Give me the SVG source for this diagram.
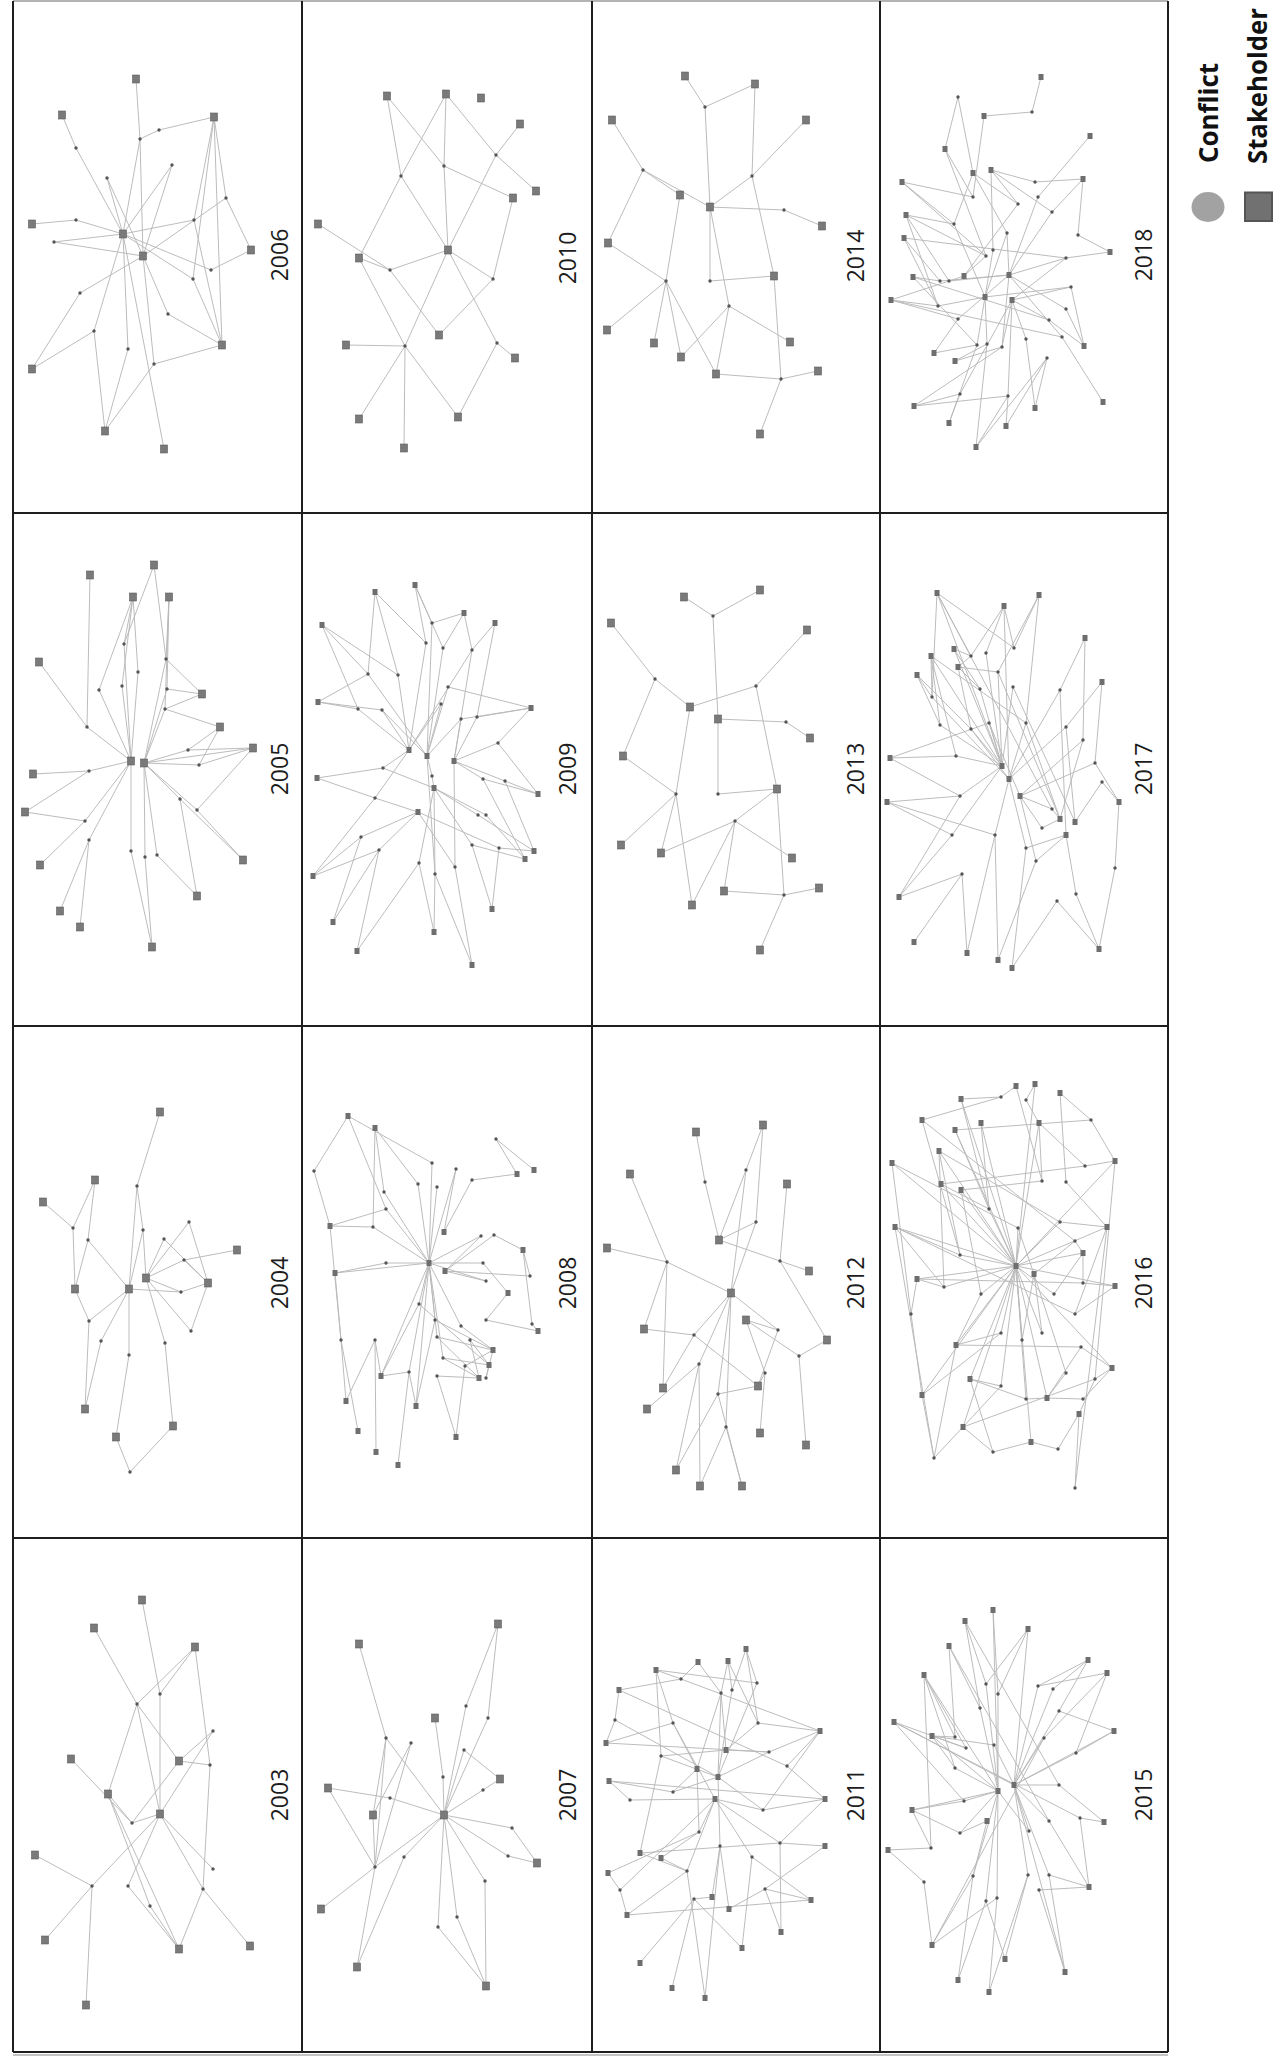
<svg xmlns="http://www.w3.org/2000/svg" xmlns:xlink="http://www.w3.org/1999/xlink" width="1274" height="2062" viewBox="0 0 1274 2062">
<style>
.e{fill:none;stroke:#b8b8b8;stroke-width:0.95}
.grid{fill:none;stroke:#1e1e1e;stroke-width:2}
.yr{font-family:"Open Sans","DejaVu Sans",sans-serif;font-size:23px;fill:#1c1c1c;text-anchor:middle}
.lg{font-family:"Open Sans","DejaVu Sans",sans-serif;font-size:27px;font-weight:700;fill:#111}
</style>
<defs>
<rect id="s" x="-3.5" y="-4" width="7" height="8" fill="#7a7a7a" stroke="#5e5e5e" stroke-width="0.6"/>
<rect id="t" x="-2.5" y="-3" width="5" height="6" fill="#6e6e6e"/>
<circle id="c" r="1.7" fill="#555"/>
</defs>
<rect width="1274" height="2062" fill="#fff"/>

<g id="panel-2006">
<g id="edges-2006"><path class="e" d="M136 79L140 139M140 139L159 130M159 130L214 117M140 139L123 234M140 139L143 256M76 148L123 234M172 165L123 234M107 178L123 234M107 178L143 256M214 117L226 198M226 198L251 250M214 117L222 345M214 117L193 279M214 117L194 220M194 220L123 234M76 220L32 224M76 220L123 234M54 242L123 234M193 279L123 234M211 270L251 250M211 270L123 234M80 293L32 369M80 293L143 256M94 331L32 369M94 331L123 234M94 331L105 431M128 349L105 431M128 349L123 234M154 364L143 256M154 364L105 431M154 364L222 345M168 314L222 345M168 314L143 256M164 449L123 234M193 279L222 345M194 220L222 345M172 165L143 256M62 115L76 148M54 242L143 256M226 198L143 256"/></g>
<g id="nodes-2006"><use href="#s" x="136" y="79"/><use href="#s" x="62" y="115"/><use href="#s" x="214" y="117"/><use href="#s" x="32" y="224"/><use href="#s" x="123" y="234"/><use href="#s" x="143" y="256"/><use href="#s" x="251" y="250"/><use href="#s" x="32" y="369"/><use href="#s" x="222" y="345"/><use href="#s" x="105" y="431"/><use href="#s" x="164" y="449"/>
<use href="#c" x="76" y="148"/><use href="#c" x="140" y="139"/><use href="#c" x="159" y="130"/><use href="#c" x="172" y="165"/><use href="#c" x="107" y="178"/><use href="#c" x="226" y="198"/><use href="#c" x="76" y="220"/><use href="#c" x="54" y="242"/><use href="#c" x="194" y="220"/><use href="#c" x="193" y="279"/><use href="#c" x="211" y="270"/><use href="#c" x="80" y="293"/><use href="#c" x="168" y="314"/><use href="#c" x="94" y="331"/><use href="#c" x="128" y="349"/><use href="#c" x="154" y="364"/></g>
<text class="yr" transform="translate(288 255) rotate(-90)">2006</text>
</g>

<g id="panel-2005">
<g id="edges-2005"><path class="e" d="M90 575L87 727M39 662L87 727M154 565L124 644M154 565L166 659M133 597L124 644M133 597L138 672M133 597L122 686M169 597L166 659M169 597L167 689M169 597L165 709M124 644L131 761M138 672L131 761M122 686L131 761M167 689L144 763M165 709L144 763M166 659L202 694M167 689L202 694M165 709L202 694M165 709L220 727M188 750L220 727M188 750L253 748M199 765L220 727M199 765L253 748M188 750L144 763M199 765L144 763M180 799L144 763M180 799L243 860M197 810L243 860M197 810L144 763M253 748L144 763M131 761L87 727M131 761L89 771M89 771L33 774M85 821L25 812M85 821L40 865M85 821L131 761M89 840L60 911M89 840L80 927M89 840L131 761M131 851L131 761M131 851L152 947M145 857L152 947M145 857L144 763M157 855L144 763M157 855L197 896M180 799L197 896M99 690L131 761M99 690L133 597M166 659L144 763M89 771L25 812M197 810L253 748"/></g>
<g id="nodes-2005"><use href="#s" x="90" y="575"/><use href="#s" x="154" y="565"/><use href="#s" x="133" y="597"/><use href="#s" x="169" y="597"/><use href="#s" x="39" y="662"/><use href="#s" x="202" y="694"/><use href="#s" x="220" y="727"/><use href="#s" x="253" y="748"/><use href="#s" x="33" y="774"/><use href="#s" x="25" y="812"/><use href="#s" x="40" y="865"/><use href="#s" x="243" y="860"/><use href="#s" x="197" y="896"/><use href="#s" x="60" y="911"/><use href="#s" x="80" y="927"/><use href="#s" x="152" y="947"/><use href="#s" x="131" y="761"/><use href="#s" x="144" y="763"/>
<use href="#c" x="124" y="644"/><use href="#c" x="166" y="659"/><use href="#c" x="138" y="672"/><use href="#c" x="99" y="690"/><use href="#c" x="122" y="686"/><use href="#c" x="167" y="689"/><use href="#c" x="87" y="727"/><use href="#c" x="89" y="771"/><use href="#c" x="165" y="709"/><use href="#c" x="188" y="750"/><use href="#c" x="199" y="765"/><use href="#c" x="180" y="799"/><use href="#c" x="197" y="810"/><use href="#c" x="85" y="821"/><use href="#c" x="89" y="840"/><use href="#c" x="131" y="851"/><use href="#c" x="145" y="857"/><use href="#c" x="157" y="855"/></g>
<text class="yr" transform="translate(288 769) rotate(-90)">2005</text>
</g>

<g id="panel-2004">
<g id="edges-2004"><path class="e" d="M160 1112L137 1186M137 1186L143 1230M143 1230L146 1278M43 1202L73 1228M95 1180L73 1228M95 1180L88 1240M73 1228L75 1289M88 1240L129 1289M88 1240L75 1289M143 1230L129 1289M164 1239L146 1278M164 1239L208 1283M189 1222L146 1278M189 1222L208 1283M184 1260L146 1278M184 1260L237 1250M184 1260L208 1283M181 1292L129 1289M181 1292L146 1278M181 1292L208 1283M89 1321L129 1289M89 1321L85 1409M101 1341L85 1409M101 1341L129 1289M129 1355L129 1289M129 1355L116 1437M165 1343L146 1278M165 1343L173 1426M191 1331L208 1283M191 1331L146 1278M130 1472L116 1437M130 1472L173 1426M137 1186L129 1289M89 1321L75 1289"/></g>
<g id="nodes-2004"><use href="#s" x="160" y="1112"/><use href="#s" x="43" y="1202"/><use href="#s" x="95" y="1180"/><use href="#s" x="237" y="1250"/><use href="#s" x="75" y="1289"/><use href="#s" x="129" y="1289"/><use href="#s" x="146" y="1278"/><use href="#s" x="208" y="1283"/><use href="#s" x="85" y="1409"/><use href="#s" x="116" y="1437"/><use href="#s" x="173" y="1426"/>
<use href="#c" x="137" y="1186"/><use href="#c" x="73" y="1228"/><use href="#c" x="88" y="1240"/><use href="#c" x="143" y="1230"/><use href="#c" x="164" y="1239"/><use href="#c" x="189" y="1222"/><use href="#c" x="184" y="1260"/><use href="#c" x="181" y="1292"/><use href="#c" x="89" y="1321"/><use href="#c" x="101" y="1341"/><use href="#c" x="129" y="1355"/><use href="#c" x="165" y="1343"/><use href="#c" x="191" y="1331"/><use href="#c" x="130" y="1472"/></g>
<text class="yr" transform="translate(288 1283) rotate(-90)">2004</text>
</g>

<g id="panel-2003">
<g id="edges-2003"><path class="e" d="M94 1628L137 1704M142 1600L160 1694M195 1647L137 1704M195 1647L160 1694M195 1647L210 1765M137 1704L108 1794M137 1704L179 1761M137 1704L160 1814M71 1759L132 1823M108 1794L132 1823M108 1794L179 1949M179 1761L213 1731M179 1761L210 1765M179 1761L132 1823M160 1814L132 1823M160 1814L213 1731M160 1814L92 1886M160 1814L128 1886M160 1814L203 1889M160 1814L213 1869M35 1855L92 1886M45 1940L92 1886M92 1886L86 2005M150 1906L179 1949M150 1906L108 1794M203 1889L179 1949M203 1889L250 1946M210 1765L203 1889M160 1694L160 1814M128 1886L179 1949"/></g>
<g id="nodes-2003"><use href="#s" x="94" y="1628"/><use href="#s" x="142" y="1600"/><use href="#s" x="195" y="1647"/><use href="#s" x="71" y="1759"/><use href="#s" x="108" y="1794"/><use href="#s" x="179" y="1761"/><use href="#s" x="160" y="1814"/><use href="#s" x="35" y="1855"/><use href="#s" x="45" y="1940"/><use href="#s" x="86" y="2005"/><use href="#s" x="179" y="1949"/><use href="#s" x="250" y="1946"/>
<use href="#c" x="137" y="1704"/><use href="#c" x="160" y="1694"/><use href="#c" x="213" y="1731"/><use href="#c" x="210" y="1765"/><use href="#c" x="132" y="1823"/><use href="#c" x="92" y="1886"/><use href="#c" x="128" y="1886"/><use href="#c" x="150" y="1906"/><use href="#c" x="203" y="1889"/><use href="#c" x="213" y="1869"/></g>
<text class="yr" transform="translate(288 1795) rotate(-90)">2003</text>
</g>

<g id="panel-2010">
<g id="edges-2010"><path class="e" d="M387 96L401 176M446 94L401 176M401 176L359 258M401 176L448 250M446 94L444 166M444 166L448 250M387 96L444 166M444 166L513 198M446 94L496 155M496 155L520 124M496 155L536 191M496 155L448 250M318 224L390 270M359 258L390 270M390 270L448 250M390 270L439 335M359 258L405 346M448 250L405 346M448 250L493 279M448 250L497 343M513 198L493 279M493 279L439 335M346 345L405 346M405 346L359 419M405 346L404 448M405 346L458 417M497 343L515 358M497 343L458 417"/></g>
<g id="nodes-2010"><use href="#s" x="387" y="96"/><use href="#s" x="446" y="94"/><use href="#s" x="481" y="98"/><use href="#s" x="520" y="124"/><use href="#s" x="513" y="198"/><use href="#s" x="536" y="191"/><use href="#s" x="318" y="224"/><use href="#s" x="359" y="258"/><use href="#s" x="448" y="250"/><use href="#s" x="346" y="345"/><use href="#s" x="439" y="335"/><use href="#s" x="515" y="358"/><use href="#s" x="359" y="419"/><use href="#s" x="404" y="448"/><use href="#s" x="458" y="417"/>
<use href="#c" x="401" y="176"/><use href="#c" x="444" y="166"/><use href="#c" x="496" y="155"/><use href="#c" x="390" y="270"/><use href="#c" x="493" y="279"/><use href="#c" x="405" y="346"/><use href="#c" x="497" y="343"/></g>
<text class="yr" transform="translate(576 258) rotate(-90)">2010</text>
</g>

<g id="panel-2009">
<g id="edges-2009"><path class="e" d="M322 625L368 674M322 625L358 709M375 592L368 674M375 592L398 675M375 592L426 643M415 585L432 623M415 585L426 643M415 585L443 648M464 613L432 623M464 613L443 648M464 613L472 650M495 623L472 650M495 623L477 717M318 702L358 709M318 702L382 710M531 708L477 717M531 708L498 743M531 708L461 719M317 778L383 768M317 778L375 798M538 794L505 781M538 794L483 779M534 851L499 848M534 851L478 815M525 859L486 815M525 859L472 845M313 876L361 837M313 876L375 798M333 922L361 837M333 922L379 850M357 951L379 850M357 951L419 863M434 932L419 863M434 932L435 874M492 909L472 845M492 909L499 848M472 965L455 867M472 965L435 874M409 750L398 675M409 750L382 710M409 750L383 768M409 750L375 798M409 750L441 704M409 750L426 643M409 750L358 709M427 756L448 687M427 756L443 648M427 756L461 719M427 756L432 776M427 756L441 704M427 756L368 674M427 756L382 710M427 756L432 623M427 756L435 874M454 761L461 719M454 761L477 717M454 761L498 743M454 761L483 779M454 761L472 650M454 761L505 781M454 761L455 867M434 788L432 776M434 788L478 815M434 788L486 815M434 788L419 863M434 788L435 874M434 788L472 845M434 788L383 768M418 812L361 837M418 812L379 850M418 812L455 867M418 812L375 798M418 812L499 848M531 708L448 687M318 702L368 674M322 625L398 675M498 743L538 794M505 781L534 851M483 779L525 859M313 876L379 850M472 650L409 750"/></g>
<g id="nodes-2009"><use href="#t" x="322" y="625"/><use href="#t" x="375" y="592"/><use href="#t" x="415" y="585"/><use href="#t" x="464" y="613"/><use href="#t" x="495" y="623"/><use href="#t" x="318" y="702"/><use href="#t" x="531" y="708"/><use href="#t" x="317" y="778"/><use href="#t" x="409" y="750"/><use href="#t" x="427" y="756"/><use href="#t" x="454" y="761"/><use href="#t" x="434" y="788"/><use href="#t" x="418" y="812"/><use href="#t" x="538" y="794"/><use href="#t" x="534" y="851"/><use href="#t" x="525" y="859"/><use href="#t" x="313" y="876"/><use href="#t" x="333" y="922"/><use href="#t" x="357" y="951"/><use href="#t" x="434" y="932"/><use href="#t" x="492" y="909"/><use href="#t" x="472" y="965"/>
<use href="#c" x="432" y="623"/><use href="#c" x="443" y="648"/><use href="#c" x="426" y="643"/><use href="#c" x="472" y="650"/><use href="#c" x="368" y="674"/><use href="#c" x="398" y="675"/><use href="#c" x="358" y="709"/><use href="#c" x="382" y="710"/><use href="#c" x="448" y="687"/><use href="#c" x="461" y="719"/><use href="#c" x="477" y="717"/><use href="#c" x="498" y="743"/><use href="#c" x="383" y="768"/><use href="#c" x="375" y="798"/><use href="#c" x="483" y="779"/><use href="#c" x="505" y="781"/><use href="#c" x="478" y="815"/><use href="#c" x="486" y="815"/><use href="#c" x="432" y="776"/><use href="#c" x="361" y="837"/><use href="#c" x="379" y="850"/><use href="#c" x="419" y="863"/><use href="#c" x="435" y="874"/><use href="#c" x="455" y="867"/><use href="#c" x="472" y="845"/><use href="#c" x="499" y="848"/><use href="#c" x="441" y="704"/></g>
<text class="yr" transform="translate(576 769) rotate(-90)">2009</text>
</g>

<g id="panel-2008">
<g id="edges-2008"><path class="e" d="M314 1171L348 1116M314 1171L330 1226M348 1116L386 1209M375 1128L384 1192M375 1128L373 1227M330 1226L386 1209M330 1226L373 1227M335 1273L386 1263M335 1273L429 1263M335 1273L341 1340M330 1226L341 1340M418 1184L429 1263M432 1163L429 1263M437 1187L429 1263M456 1169L429 1263M472 1180L444 1232M472 1180L517 1174M496 1139L517 1174M496 1139L534 1170M494 1235L523 1250M481 1236L445 1271M483 1263L508 1293M486 1281L445 1271M530 1276L523 1250M530 1276L445 1271M532 1324L538 1331M532 1324L523 1250M429 1263L386 1263M429 1263L419 1304M429 1263L435 1320M429 1263L437 1337M429 1263L443 1358M429 1263L461 1326M429 1263L481 1236M429 1263L483 1263M429 1263L486 1281M429 1263L409 1372M429 1263L386 1209M429 1263L373 1227M429 1263L384 1192M444 1232L456 1169M445 1271L494 1235M419 1304L489 1365M435 1320L493 1350M437 1337L479 1378M443 1358L489 1365M461 1326L493 1350M470 1340L479 1378M486 1320L538 1331M486 1320L508 1293M493 1350L465 1366M479 1378L437 1376M489 1365L486 1378M375 1340L381 1376M375 1340L346 1401M341 1340L346 1401M341 1340L358 1431M409 1372L416 1406M409 1372L381 1376M376 1452L375 1340M398 1465L409 1372M456 1437L437 1376M456 1437L465 1366M416 1406L429 1263M381 1376L429 1263M470 1340L489 1365M486 1378L493 1350M437 1337L493 1350M443 1358L479 1378M419 1304L381 1376M435 1320L416 1406M348 1116L432 1163M375 1128L418 1184"/></g>
<g id="nodes-2008"><use href="#t" x="348" y="1116"/><use href="#t" x="375" y="1128"/><use href="#t" x="330" y="1226"/><use href="#t" x="335" y="1273"/><use href="#t" x="444" y="1232"/><use href="#t" x="429" y="1263"/><use href="#t" x="445" y="1271"/><use href="#t" x="517" y="1174"/><use href="#t" x="534" y="1170"/><use href="#t" x="523" y="1250"/><use href="#t" x="508" y="1293"/><use href="#t" x="538" y="1331"/><use href="#t" x="493" y="1350"/><use href="#t" x="479" y="1378"/><use href="#t" x="489" y="1365"/><use href="#t" x="381" y="1376"/><use href="#t" x="416" y="1406"/><use href="#t" x="346" y="1401"/><use href="#t" x="358" y="1431"/><use href="#t" x="376" y="1452"/><use href="#t" x="398" y="1465"/><use href="#t" x="456" y="1437"/>
<use href="#c" x="314" y="1171"/><use href="#c" x="384" y="1192"/><use href="#c" x="386" y="1209"/><use href="#c" x="373" y="1227"/><use href="#c" x="418" y="1184"/><use href="#c" x="432" y="1163"/><use href="#c" x="437" y="1187"/><use href="#c" x="456" y="1169"/><use href="#c" x="472" y="1180"/><use href="#c" x="496" y="1139"/><use href="#c" x="494" y="1235"/><use href="#c" x="481" y="1236"/><use href="#c" x="483" y="1263"/><use href="#c" x="486" y="1281"/><use href="#c" x="530" y="1276"/><use href="#c" x="532" y="1324"/><use href="#c" x="386" y="1263"/><use href="#c" x="419" y="1304"/><use href="#c" x="435" y="1320"/><use href="#c" x="437" y="1337"/><use href="#c" x="443" y="1358"/><use href="#c" x="461" y="1326"/><use href="#c" x="470" y="1340"/><use href="#c" x="486" y="1320"/><use href="#c" x="341" y="1340"/><use href="#c" x="375" y="1340"/><use href="#c" x="409" y="1372"/><use href="#c" x="437" y="1376"/><use href="#c" x="465" y="1366"/><use href="#c" x="486" y="1378"/></g>
<text class="yr" transform="translate(576 1283) rotate(-90)">2008</text>
</g>

<g id="panel-2007">
<g id="edges-2007"><path class="e" d="M359 1644L386 1738M386 1738L375 1867M411 1743L375 1867M328 1788L390 1798M390 1798L444 1815M328 1788L375 1867M373 1815L386 1738M373 1815L375 1867M375 1867L321 1909M375 1867L357 1967M375 1867L444 1815M386 1738L444 1815M411 1743L373 1815M404 1857L444 1815M443 1777L444 1815M466 1706L498 1624M466 1706L444 1815M488 1718L498 1624M488 1718L444 1815M464 1750L444 1815M464 1750L500 1779M483 1790L500 1779M483 1790L444 1815M512 1828L444 1815M512 1828L537 1863M508 1856L537 1863M508 1856L444 1815M485 1881L444 1815M485 1881L486 1986M438 1927L444 1815M438 1927L486 1986M457 1917L444 1815M457 1917L486 1986M435 1718L443 1777M404 1857L357 1967"/></g>
<g id="nodes-2007"><use href="#s" x="359" y="1644"/><use href="#s" x="328" y="1788"/><use href="#s" x="373" y="1815"/><use href="#s" x="435" y="1718"/><use href="#s" x="444" y="1815"/><use href="#s" x="500" y="1779"/><use href="#s" x="498" y="1624"/><use href="#s" x="537" y="1863"/><use href="#s" x="321" y="1909"/><use href="#s" x="357" y="1967"/><use href="#s" x="486" y="1986"/>
<use href="#c" x="386" y="1738"/><use href="#c" x="411" y="1743"/><use href="#c" x="390" y="1798"/><use href="#c" x="443" y="1777"/><use href="#c" x="466" y="1706"/><use href="#c" x="488" y="1718"/><use href="#c" x="464" y="1750"/><use href="#c" x="483" y="1790"/><use href="#c" x="512" y="1828"/><use href="#c" x="508" y="1856"/><use href="#c" x="375" y="1867"/><use href="#c" x="404" y="1857"/><use href="#c" x="485" y="1881"/><use href="#c" x="438" y="1927"/><use href="#c" x="457" y="1917"/></g>
<text class="yr" transform="translate(576 1795) rotate(-90)">2007</text>
</g>

<g id="panel-2014">
<g id="edges-2014"><path class="e" d="M685 76L705 107M755 84L705 107M705 107L710 207M755 84L752 176M806 120L752 176M752 176L710 207M752 176L774 276M710 207L784 210M784 210L822 226M643 170L680 195M643 170L612 120M643 170L608 243M643 170L710 207M710 207L710 281M710 281L774 276M666 281L654 343M666 281L681 357M666 281L716 374M666 281L608 243M666 281L680 195M666 281L607 330M729 306L681 357M729 306L716 374M729 306L790 342M729 306L710 207M781 379L716 374M781 379L818 371M781 379L760 434M781 379L774 276"/></g>
<g id="nodes-2014"><use href="#s" x="685" y="76"/><use href="#s" x="755" y="84"/><use href="#s" x="806" y="120"/><use href="#s" x="680" y="195"/><use href="#s" x="710" y="207"/><use href="#s" x="822" y="226"/><use href="#s" x="774" y="276"/><use href="#s" x="654" y="343"/><use href="#s" x="681" y="357"/><use href="#s" x="790" y="342"/><use href="#s" x="716" y="374"/><use href="#s" x="818" y="371"/><use href="#s" x="760" y="434"/><use href="#s" x="612" y="120"/><use href="#s" x="608" y="243"/><use href="#s" x="607" y="330"/>
<use href="#c" x="705" y="107"/><use href="#c" x="643" y="170"/><use href="#c" x="752" y="176"/><use href="#c" x="784" y="210"/><use href="#c" x="666" y="281"/><use href="#c" x="710" y="281"/><use href="#c" x="729" y="306"/><use href="#c" x="781" y="379"/></g>
<text class="yr" transform="translate(864 256) rotate(-90)">2014</text>
</g>

<g id="panel-2013">
<g id="edges-2013"><path class="e" d="M684 597L713 616M760 590L713 616M713 616L718 719M807 630L756 686M756 686L690 707M756 686L777 789M718 719L786 722M786 722L810 738M655 679L611 623M655 679L690 707M655 679L623 756M718 719L718 794M718 794L777 789M676 794L623 756M676 794L621 845M676 794L661 853M676 794L692 905M676 794L690 707M735 821L661 853M735 821L692 905M735 821L724 891M735 821L777 789M784 895L724 891M784 895L819 888M784 895L760 950M784 895L777 789M792 858L735 821"/></g>
<g id="nodes-2013"><use href="#s" x="684" y="597"/><use href="#s" x="760" y="590"/><use href="#s" x="807" y="630"/><use href="#s" x="690" y="707"/><use href="#s" x="718" y="719"/><use href="#s" x="810" y="738"/><use href="#s" x="777" y="789"/><use href="#s" x="661" y="853"/><use href="#s" x="692" y="905"/><use href="#s" x="724" y="891"/><use href="#s" x="792" y="858"/><use href="#s" x="819" y="888"/><use href="#s" x="760" y="950"/><use href="#s" x="611" y="623"/><use href="#s" x="623" y="756"/><use href="#s" x="621" y="845"/>
<use href="#c" x="713" y="616"/><use href="#c" x="655" y="679"/><use href="#c" x="756" y="686"/><use href="#c" x="786" y="722"/><use href="#c" x="676" y="794"/><use href="#c" x="718" y="794"/><use href="#c" x="735" y="821"/><use href="#c" x="784" y="895"/></g>
<text class="yr" transform="translate(864 769) rotate(-90)">2013</text>
</g>

<g id="panel-2012">
<g id="edges-2012"><path class="e" d="M696 1132L705 1182M705 1182L719 1240M763 1125L746 1170M746 1170L719 1240M746 1170L731 1293M787 1184L780 1261M756 1222L719 1240M756 1222L731 1293M756 1222L763 1125M719 1240L780 1261M780 1261L809 1271M780 1261L827 1340M667 1262L630 1174M667 1262L607 1248M667 1262L731 1293M667 1262L663 1388M667 1262L644 1329M731 1293L699 1364M731 1293L778 1330M731 1293L718 1394M731 1293L726 1427M746 1320L778 1330M746 1320L799 1356M694 1335L644 1329M694 1335L663 1388M694 1335L758 1386M699 1364L647 1409M699 1364L676 1470M699 1364L700 1486M778 1330L758 1386M799 1356L806 1445M799 1356L827 1340M718 1394L758 1386M718 1394L676 1470M718 1394L742 1486M726 1427L742 1486M726 1427L700 1486M765 1373L758 1386M765 1373L760 1433M765 1373L746 1320M694 1335L731 1293"/></g>
<g id="nodes-2012"><use href="#s" x="696" y="1132"/><use href="#s" x="763" y="1125"/><use href="#s" x="787" y="1184"/><use href="#s" x="719" y="1240"/><use href="#s" x="731" y="1293"/><use href="#s" x="746" y="1320"/><use href="#s" x="809" y="1271"/><use href="#s" x="827" y="1340"/><use href="#s" x="644" y="1329"/><use href="#s" x="663" y="1388"/><use href="#s" x="647" y="1409"/><use href="#s" x="758" y="1386"/><use href="#s" x="760" y="1433"/><use href="#s" x="806" y="1445"/><use href="#s" x="676" y="1470"/><use href="#s" x="700" y="1486"/><use href="#s" x="742" y="1486"/><use href="#s" x="630" y="1174"/><use href="#s" x="607" y="1248"/>
<use href="#c" x="705" y="1182"/><use href="#c" x="746" y="1170"/><use href="#c" x="756" y="1222"/><use href="#c" x="667" y="1262"/><use href="#c" x="780" y="1261"/><use href="#c" x="694" y="1335"/><use href="#c" x="699" y="1364"/><use href="#c" x="778" y="1330"/><use href="#c" x="799" y="1356"/><use href="#c" x="718" y="1394"/><use href="#c" x="726" y="1427"/><use href="#c" x="765" y="1373"/></g>
<text class="yr" transform="translate(864 1283) rotate(-90)">2012</text>
</g>

<g id="panel-2011">
<g id="edges-2011"><path class="e" d="M656 1670L681 1679M656 1670L673 1723M698 1662L721 1693M698 1662L681 1679M728 1661L732 1690M728 1661L758 1723M746 1649L757 1683M746 1649L758 1723M820 1731L769 1752M820 1731L787 1766M820 1731L758 1723M697 1769L673 1723M697 1769L673 1792M697 1769L721 1693M726 1750L758 1723M726 1750L721 1693M726 1750L661 1756M718 1777L673 1792M718 1777L769 1752M718 1777L763 1810M718 1777L721 1693M718 1777L661 1756M718 1777L720 1846M715 1799L699 1832M715 1799L752 1857M715 1799L780 1843M715 1799L687 1871M715 1799L673 1723M825 1799L787 1766M825 1799L763 1810M825 1799L780 1843M825 1846L780 1843M825 1846L765 1889M640 1853L687 1871M640 1853L661 1756M661 1858L699 1832M661 1858L687 1871M712 1897L694 1899M712 1897L720 1846M729 1909L765 1889M729 1909L720 1846M811 1900L765 1889M811 1900L752 1857M781 1932L780 1843M781 1932L765 1889M742 1948L694 1899M742 1948L752 1857M640 1963L694 1899M672 1988L694 1899M705 1998L687 1871M705 1998L720 1846M619 1690L615 1720M619 1690L681 1679M606 1743L615 1720M606 1743L673 1723M609 1781L630 1800M609 1781L673 1792M608 1873L620 1890M608 1873L699 1832M627 1915L620 1890M627 1915L687 1871M615 1720L718 1777M630 1800L715 1799M620 1890L715 1799M718 1777L757 1683M718 1777L732 1690M715 1799L763 1810M726 1750L769 1752M820 1731L763 1810M746 1649L732 1690M728 1661L721 1693M656 1670L661 1756M697 1769L699 1832M619 1690L787 1766M606 1743L769 1752M609 1781L825 1799M640 1853L780 1843M627 1915L811 1900M656 1670L757 1683M681 1679L820 1731"/></g>
<g id="nodes-2011"><use href="#t" x="656" y="1670"/><use href="#t" x="698" y="1662"/><use href="#t" x="728" y="1661"/><use href="#t" x="746" y="1649"/><use href="#t" x="820" y="1731"/><use href="#t" x="697" y="1769"/><use href="#t" x="726" y="1750"/><use href="#t" x="718" y="1777"/><use href="#t" x="715" y="1799"/><use href="#t" x="825" y="1799"/><use href="#t" x="825" y="1846"/><use href="#t" x="640" y="1853"/><use href="#t" x="661" y="1858"/><use href="#t" x="712" y="1897"/><use href="#t" x="729" y="1909"/><use href="#t" x="811" y="1900"/><use href="#t" x="781" y="1932"/><use href="#t" x="742" y="1948"/><use href="#t" x="640" y="1963"/><use href="#t" x="672" y="1988"/><use href="#t" x="705" y="1998"/><use href="#t" x="619" y="1690"/><use href="#t" x="606" y="1743"/><use href="#t" x="609" y="1781"/><use href="#t" x="608" y="1873"/><use href="#t" x="627" y="1915"/>
<use href="#c" x="681" y="1679"/><use href="#c" x="721" y="1693"/><use href="#c" x="757" y="1683"/><use href="#c" x="758" y="1723"/><use href="#c" x="673" y="1723"/><use href="#c" x="661" y="1756"/><use href="#c" x="769" y="1752"/><use href="#c" x="787" y="1766"/><use href="#c" x="673" y="1792"/><use href="#c" x="699" y="1832"/><use href="#c" x="720" y="1846"/><use href="#c" x="752" y="1857"/><use href="#c" x="780" y="1843"/><use href="#c" x="687" y="1871"/><use href="#c" x="694" y="1899"/><use href="#c" x="765" y="1889"/><use href="#c" x="763" y="1810"/><use href="#c" x="732" y="1690"/><use href="#c" x="615" y="1720"/><use href="#c" x="630" y="1800"/><use href="#c" x="620" y="1890"/></g>
<text class="yr" transform="translate(864 1795) rotate(-90)">2011</text>
</g>

<g id="panel-2018">
<g id="edges-2018"><path class="e" d="M958 97L945 149M958 97L973 173M1032 112L1041 77M1032 112L984 116M1035 182L1083 179M1035 182L991 170M1052 212L1083 179M1052 212L1009 275M1078 235L1110 252M1078 235L1083 179M954 224L902 182M954 224L906 215M954 224L973 173M940 281L913 277M940 281L904 238M949 281L891 300M949 281L964 276M1018 204L991 170M1018 204L973 173M1007 233L973 173M1007 233L1009 275M986 256L964 276M986 256L906 215M1066 258L1110 252M1066 258L1009 275M1071 287L1084 346M1071 287L1012 300M977 345L934 353M977 345L985 297M987 344L955 361M987 344L985 297M1002 347L1012 300M1002 347L955 361M1026 339L1012 300M1026 339L1035 408M1049 320L1084 346M1049 320L1012 300M1062 337L1103 402M1062 337L1009 275M1047 358L1006 426M1047 358L1035 408M1008 396L1006 426M1008 396L914 406M1066 309L1084 346M1066 309L1009 275M958 319L934 353M958 319L891 300M938 306L891 300M938 306L906 215M1038 197L1090 136M1038 197L1009 275M960 394L949 423M960 394L914 406M993 250L985 297M993 250L991 170M973 197L945 149M973 197L902 182M1009 275L940 281M1009 275L949 281M985 297L954 224M985 297L938 306M1012 300L1008 396M1012 300L960 394M1009 275L958 319M985 297L1007 233M902 182L986 256M904 238L938 306M913 277L977 345M984 116L973 197M976 447L1008 396M976 447L987 344M949 423L977 345M945 149L986 256M906 215L949 281M964 276L1018 204M1012 300L1066 258M985 297L1071 287M1009 275L1002 347M1052 212L991 170M1047 358L976 447M891 300L1062 337M913 277L1049 320M914 406L1002 347M904 238L1066 258"/></g>
<g id="nodes-2018"><use href="#t" x="1041" y="77"/><use href="#t" x="984" y="116"/><use href="#t" x="945" y="149"/><use href="#t" x="1090" y="136"/><use href="#t" x="973" y="173"/><use href="#t" x="991" y="170"/><use href="#t" x="902" y="182"/><use href="#t" x="906" y="215"/><use href="#t" x="904" y="238"/><use href="#t" x="1083" y="179"/><use href="#t" x="1110" y="252"/><use href="#t" x="1009" y="275"/><use href="#t" x="964" y="276"/><use href="#t" x="913" y="277"/><use href="#t" x="891" y="300"/><use href="#t" x="985" y="297"/><use href="#t" x="1012" y="300"/><use href="#t" x="934" y="353"/><use href="#t" x="955" y="361"/><use href="#t" x="1084" y="346"/><use href="#t" x="914" y="406"/><use href="#t" x="949" y="423"/><use href="#t" x="1006" y="426"/><use href="#t" x="1035" y="408"/><use href="#t" x="1103" y="402"/><use href="#t" x="976" y="447"/>
<use href="#c" x="958" y="97"/><use href="#c" x="1032" y="112"/><use href="#c" x="1035" y="182"/><use href="#c" x="1052" y="212"/><use href="#c" x="1078" y="235"/><use href="#c" x="954" y="224"/><use href="#c" x="940" y="281"/><use href="#c" x="949" y="281"/><use href="#c" x="1018" y="204"/><use href="#c" x="1007" y="233"/><use href="#c" x="986" y="256"/><use href="#c" x="1066" y="258"/><use href="#c" x="1071" y="287"/><use href="#c" x="977" y="345"/><use href="#c" x="987" y="344"/><use href="#c" x="1002" y="347"/><use href="#c" x="1026" y="339"/><use href="#c" x="1049" y="320"/><use href="#c" x="1062" y="337"/><use href="#c" x="1047" y="358"/><use href="#c" x="1008" y="396"/><use href="#c" x="1066" y="309"/><use href="#c" x="958" y="319"/><use href="#c" x="938" y="306"/><use href="#c" x="1038" y="197"/><use href="#c" x="960" y="394"/><use href="#c" x="993" y="250"/><use href="#c" x="973" y="197"/></g>
<text class="yr" transform="translate(1152 255) rotate(-90)">2018</text>
</g>

<g id="panel-2017">
<g id="edges-2017"><path class="e" d="M937 593L971 656M937 593L932 697M937 593L1002 766M1004 606L986 653M1004 606L1014 648M1004 606L1009 779M1039 595L1014 648M1039 595L1026 723M931 656L932 697M931 656L940 725M931 656L1002 766M954 649L980 689M954 649L971 656M954 649L1002 766M917 675L932 697M917 675L940 725M1085 638L1060 690M1085 638L1083 740M1102 682L1066 727M1102 682L1095 763M890 758L956 756M890 758L960 796M887 802L960 796M887 802L952 835M1002 766L986 653M1002 766L998 672M1002 766L1013 687M1002 766L980 689M1002 766L956 756M1002 766L971 729M1002 766L989 723M1002 766L960 796M1002 766L952 835M1009 779L1026 723M1009 779L1060 690M1009 779L1066 727M1009 779L995 835M1009 779L1026 848M1020 796L1052 809M1020 796L1042 828M1020 796L1036 861M1020 796L1083 740M1020 796L1095 763M1060 819L1042 828M1060 819L1052 809M1060 819L1083 740M1075 822L1102 782M1075 822L1066 727M1066 835L1076 894M1066 835L1026 848M1066 835L1036 861M1119 802L1102 782M1119 802L1115 868M1119 802L1095 763M899 897L952 835M899 897L962 874M914 942L962 874M967 953L995 835M967 953L962 874M998 960L1036 861M998 960L995 835M1012 968L1057 901M1012 968L1026 848M1099 949L1057 901M1099 949L1076 894M1099 949L1115 868M958 667L971 656M958 667L998 672M958 667L980 689M937 593L1014 648M958 667L971 729M989 723L1020 796M1026 723L1060 819M1013 687L1075 822M971 729L1009 779M1004 606L971 656M1039 595L998 672M931 656L956 756M940 725L1002 766M937 593L1052 809M931 656L1026 723M917 675L971 729M890 758L989 723M1060 690L1066 835M998 672L1060 819M932 697L1009 779M887 802L995 835M899 897L960 796"/></g>
<g id="nodes-2017"><use href="#t" x="937" y="593"/><use href="#t" x="1004" y="606"/><use href="#t" x="1039" y="595"/><use href="#t" x="931" y="656"/><use href="#t" x="954" y="649"/><use href="#t" x="917" y="675"/><use href="#t" x="1085" y="638"/><use href="#t" x="1102" y="682"/><use href="#t" x="890" y="758"/><use href="#t" x="887" y="802"/><use href="#t" x="1002" y="766"/><use href="#t" x="1009" y="779"/><use href="#t" x="1020" y="796"/><use href="#t" x="1060" y="819"/><use href="#t" x="1075" y="822"/><use href="#t" x="1066" y="835"/><use href="#t" x="1119" y="802"/><use href="#t" x="899" y="897"/><use href="#t" x="914" y="942"/><use href="#t" x="967" y="953"/><use href="#t" x="998" y="960"/><use href="#t" x="1012" y="968"/><use href="#t" x="1099" y="949"/><use href="#t" x="958" y="667"/>
<use href="#c" x="971" y="656"/><use href="#c" x="986" y="653"/><use href="#c" x="998" y="672"/><use href="#c" x="1014" y="648"/><use href="#c" x="1013" y="687"/><use href="#c" x="980" y="689"/><use href="#c" x="932" y="697"/><use href="#c" x="940" y="725"/><use href="#c" x="956" y="756"/><use href="#c" x="971" y="729"/><use href="#c" x="1060" y="690"/><use href="#c" x="1066" y="727"/><use href="#c" x="1083" y="740"/><use href="#c" x="1102" y="782"/><use href="#c" x="1095" y="763"/><use href="#c" x="960" y="796"/><use href="#c" x="952" y="835"/><use href="#c" x="962" y="874"/><use href="#c" x="995" y="835"/><use href="#c" x="1026" y="848"/><use href="#c" x="1042" y="828"/><use href="#c" x="1057" y="901"/><use href="#c" x="1076" y="894"/><use href="#c" x="1115" y="868"/><use href="#c" x="1052" y="809"/><use href="#c" x="1036" y="861"/><use href="#c" x="989" y="723"/><use href="#c" x="1026" y="723"/></g>
<text class="yr" transform="translate(1152 769) rotate(-90)">2017</text>
</g>

<g id="panel-2016">
<g id="edges-2016"><path class="e" d="M1016 1266L955 1130M1016 1266L981 1123M1016 1266L939 1151M1016 1266L941 1184M1016 1266L961 1190M1016 1266L892 1163M1016 1266L895 1227M1016 1266L917 1279M1016 1266L956 1345M1016 1266L922 1395M1016 1266L970 1379M1016 1266L1047 1398M1016 1266L963 1427M1016 1266L1031 1442M1016 1266L1107 1227M1016 1266L1083 1253M1016 1266L1115 1286M1016 1266L1112 1368M1016 1266L1115 1161M1016 1266L961 1099M1016 1266L1035 1084M1016 1266L1039 1123M1016 1266L989 1209M1016 1266L1018 1228M1016 1266L1060 1222M1016 1266L944 1287M1016 1266L1001 1333M1016 1266L1022 1340M1016 1266L1042 1333M1016 1266L981 1294M1016 1266L1054 1294M1016 1266L960 1255M1016 1266L1001 1386M1016 1266L1026 1399M1001 1097L961 1099M1001 1097L1016 1086M1026 1100L1035 1084M1026 1100L1039 1123M1091 1120L1060 1093M1091 1120L1115 1161M1085 1166L1115 1161M1085 1166L1039 1123M1042 1181L1039 1123M1042 1181L961 1190M1066 1182L1060 1093M1066 1182L1107 1227M989 1209L981 1123M989 1209L941 1184M1018 1228L1034 1274M1060 1222L1107 1227M1075 1241L1083 1253M1075 1241L1034 1274M1083 1283L1115 1286M1083 1283L1083 1253M944 1287L895 1227M944 1287L917 1279M1001 1333L956 1345M1022 1340L1034 1274M1042 1333L1034 1274M1075 1314L1107 1227M1075 1314L1115 1286M1081 1347L1112 1368M1081 1347L1047 1398M1095 1379L1112 1368M1095 1379L1079 1414M981 1294L956 1345M1054 1294L1083 1253M934 1458L922 1395M934 1458L963 1427M993 1452L963 1427M993 1452L1031 1442M1058 1449L1031 1442M1058 1449L1079 1414M1075 1488L1079 1414M1083 1399L1047 1398M1083 1399L1112 1368M1026 1399L970 1379M1001 1386L970 1379M960 1255L939 1151M960 1255L895 1227M1066 1373L1047 1398M911 1314L917 1279M911 1314L922 1395M922 1120L960 1255M955 1130L989 1209M892 1163L911 1314M939 1151L944 1287M961 1099L989 1209M961 1190L981 1294M922 1120L1001 1097M1016 1086L1042 1181M956 1345L934 1458M970 1379L993 1452M1034 1274L1066 1373M1026 1399L1047 1398M963 1427L1001 1386M895 1227L1075 1314M917 1279L1083 1283M939 1151L1060 1222M922 1395L1001 1333M892 1163L1018 1228M922 1120L1075 1241M955 1130L1091 1120M941 1184L1085 1166M956 1345L1081 1347M963 1427L1095 1379M895 1227L934 1458M1115 1161L1095 1379M1107 1227L1075 1488"/></g>
<g id="nodes-2016"><use href="#t" x="922" y="1120"/><use href="#t" x="961" y="1099"/><use href="#t" x="955" y="1130"/><use href="#t" x="981" y="1123"/><use href="#t" x="1016" y="1086"/><use href="#t" x="1035" y="1084"/><use href="#t" x="1060" y="1093"/><use href="#t" x="1039" y="1123"/><use href="#t" x="892" y="1163"/><use href="#t" x="939" y="1151"/><use href="#t" x="941" y="1184"/><use href="#t" x="961" y="1190"/><use href="#t" x="1115" y="1161"/><use href="#t" x="895" y="1227"/><use href="#t" x="1107" y="1227"/><use href="#t" x="1083" y="1253"/><use href="#t" x="917" y="1279"/><use href="#t" x="1016" y="1266"/><use href="#t" x="1034" y="1274"/><use href="#t" x="1115" y="1286"/><use href="#t" x="956" y="1345"/><use href="#t" x="1112" y="1368"/><use href="#t" x="922" y="1395"/><use href="#t" x="970" y="1379"/><use href="#t" x="1047" y="1398"/><use href="#t" x="1079" y="1414"/><use href="#t" x="963" y="1427"/><use href="#t" x="1031" y="1442"/>
<use href="#c" x="1001" y="1097"/><use href="#c" x="1026" y="1100"/><use href="#c" x="1091" y="1120"/><use href="#c" x="1085" y="1166"/><use href="#c" x="1042" y="1181"/><use href="#c" x="1066" y="1182"/><use href="#c" x="989" y="1209"/><use href="#c" x="1018" y="1228"/><use href="#c" x="1060" y="1222"/><use href="#c" x="1075" y="1241"/><use href="#c" x="1083" y="1283"/><use href="#c" x="944" y="1287"/><use href="#c" x="1001" y="1333"/><use href="#c" x="1022" y="1340"/><use href="#c" x="1042" y="1333"/><use href="#c" x="1075" y="1314"/><use href="#c" x="1081" y="1347"/><use href="#c" x="1095" y="1379"/><use href="#c" x="981" y="1294"/><use href="#c" x="1054" y="1294"/><use href="#c" x="934" y="1458"/><use href="#c" x="993" y="1452"/><use href="#c" x="1058" y="1449"/><use href="#c" x="1075" y="1488"/><use href="#c" x="1083" y="1399"/><use href="#c" x="1026" y="1399"/><use href="#c" x="1001" y="1386"/><use href="#c" x="960" y="1255"/><use href="#c" x="1066" y="1373"/><use href="#c" x="911" y="1314"/></g>
<text class="yr" transform="translate(1152 1283) rotate(-90)">2016</text>
</g>

<g id="panel-2015">
<g id="edges-2015"><path class="e" d="M993 1610L998 1694M965 1621L986 1684M965 1621L980 1708M1028 1629L986 1684M1028 1629L998 1694M1028 1629L1014 1785M949 1646L980 1708M949 1646L955 1737M924 1675L955 1737M924 1675L966 1748M924 1675L955 1768M1088 1660L1038 1686M1088 1660L1053 1689M1088 1660L1059 1711M1107 1673L1038 1686M1107 1673L1044 1738M1107 1673L1076 1753M894 1722L966 1748M894 1722L964 1801M932 1736L955 1737M932 1736L966 1748M932 1736L955 1768M932 1736L994 1745M932 1736L998 1791M1114 1731L1076 1753M1114 1731L1059 1711M1114 1731L1014 1785M912 1810L964 1801M912 1810L960 1833M912 1810L931 1848M912 1810L998 1791M987 1821L960 1833M987 1821L973 1876M1104 1822L1059 1785M1104 1822L1080 1818M888 1850L931 1848M888 1850L924 1882M1089 1887L1049 1821M1089 1887L1080 1818M1089 1887L1049 1875M1089 1887L1039 1890M932 1945L924 1882M932 1945L973 1876M1005 1959L986 1901M1005 1959L1028 1875M1065 1972L1039 1890M1065 1972L1049 1875M958 1980L973 1876M958 1980L986 1901M989 1992L997 1898M989 1992L1028 1875M1014 1785L1038 1686M1014 1785L1053 1689M1014 1785L1059 1711M1014 1785L1044 1738M1014 1785L994 1745M1014 1785L1076 1753M1014 1785L1059 1785M1014 1785L1049 1821M1014 1785L1029 1831M1014 1785L1028 1875M1014 1785L1049 1875M998 1791L986 1684M998 1791L998 1694M998 1791L980 1708M998 1791L955 1768M998 1791L964 1801M998 1791L960 1833M998 1791L1029 1831M998 1791L973 1876M998 1791L986 1901M998 1791L997 1898M993 1610L998 1791M924 1675L998 1791M894 1722L1014 1785M932 1945L997 1898M1065 1972L1014 1785M965 1621L1059 1785M949 1646L1049 1821M894 1722L1080 1818M924 1675L931 1848M932 1945L1044 1738"/></g>
<g id="nodes-2015"><use href="#t" x="993" y="1610"/><use href="#t" x="965" y="1621"/><use href="#t" x="1028" y="1629"/><use href="#t" x="949" y="1646"/><use href="#t" x="924" y="1675"/><use href="#t" x="1088" y="1660"/><use href="#t" x="1107" y="1673"/><use href="#t" x="894" y="1722"/><use href="#t" x="932" y="1736"/><use href="#t" x="1114" y="1731"/><use href="#t" x="1014" y="1785"/><use href="#t" x="998" y="1791"/><use href="#t" x="912" y="1810"/><use href="#t" x="987" y="1821"/><use href="#t" x="1104" y="1822"/><use href="#t" x="888" y="1850"/><use href="#t" x="1089" y="1887"/><use href="#t" x="932" y="1945"/><use href="#t" x="1005" y="1959"/><use href="#t" x="1065" y="1972"/><use href="#t" x="958" y="1980"/><use href="#t" x="989" y="1992"/>
<use href="#c" x="986" y="1684"/><use href="#c" x="998" y="1694"/><use href="#c" x="980" y="1708"/><use href="#c" x="1038" y="1686"/><use href="#c" x="1053" y="1689"/><use href="#c" x="1059" y="1711"/><use href="#c" x="1044" y="1738"/><use href="#c" x="955" y="1737"/><use href="#c" x="966" y="1748"/><use href="#c" x="955" y="1768"/><use href="#c" x="994" y="1745"/><use href="#c" x="1076" y="1753"/><use href="#c" x="964" y="1801"/><use href="#c" x="1059" y="1785"/><use href="#c" x="960" y="1833"/><use href="#c" x="931" y="1848"/><use href="#c" x="1049" y="1821"/><use href="#c" x="1029" y="1831"/><use href="#c" x="1080" y="1818"/><use href="#c" x="924" y="1882"/><use href="#c" x="973" y="1876"/><use href="#c" x="1028" y="1875"/><use href="#c" x="1049" y="1875"/><use href="#c" x="1039" y="1890"/><use href="#c" x="986" y="1901"/><use href="#c" x="997" y="1898"/></g>
<text class="yr" transform="translate(1152 1795) rotate(-90)">2015</text>
</g>

<g id="grid">
<path d="M13 1H1168" fill="none" stroke="#9a9a9a" stroke-width="1.5"/>
<path d="M13 2055H1168" fill="none" stroke="#b0b0b0" stroke-width="1.5"/>
<path class="grid" d="M13 1V2052M302 1V2052M592 1V2052M880 1V2052M1168 1V2052M13 513H1168M13 1026H1168M13 1538H1168M13 2052H1168"/>
</g>

<g id="legend">
<g id="legend-conflict">
<ellipse cx="1208" cy="207" rx="16.5" ry="15" fill="#a2a2a2"/>
<text class="lg" transform="translate(1218 163) rotate(-90)" textLength="100" lengthAdjust="spacingAndGlyphs">Conflict</text>
</g>
<g id="legend-stakeholder">
<rect x="1245" y="192.5" width="27" height="28.5" fill="#717171" stroke="#555" stroke-width="2"/>
<text class="lg" transform="translate(1267 164) rotate(-90)" textLength="156" lengthAdjust="spacingAndGlyphs">Stakeholder</text>
</g>
</g>
</svg>
